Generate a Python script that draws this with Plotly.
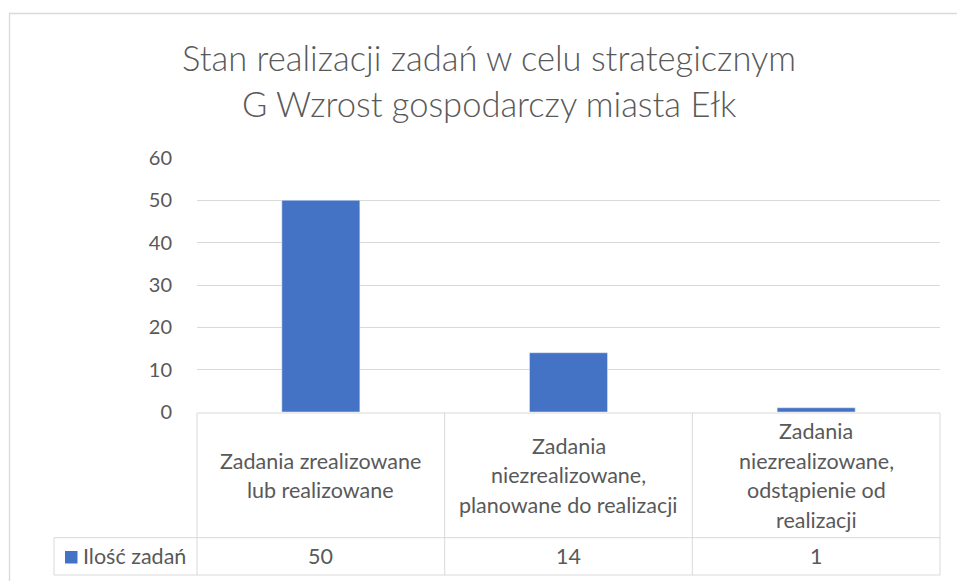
import plotly.graph_objects as go

# ---- data ----
categories = [
    "Zadania zrealizowane\nlub realizowane",
    "Zadania\nniezrealizowane,\nplanowane do realizacji",
    "Zadania\nniezrealizowane,\nodstąpienie od\nrealizacji",
]
series_name = "Ilość zadań"
values = [50, 14, 1]
y_ticks = [0, 10, 20, 30, 40, 50, 60]
title_lines = ["Stan realizacji zadań w celu strategicznym", "G Wzrost gospodarczy miasta Ełk"]

# ---- layout geometry (pixels) ----
W, H = 957, 581
PL, PR, PT, PB = 197, 940, 158, 412
BAR = "#4472C4"
TXT = "#595959"
GRID = "#D9D9D9"
FONT = "Lato"


def px(x):
    return (x - PL) / (PR - PL)


def py(y):
    return (PB - y) / (PB - PT)


cat_keys = [c.replace("\n", " ") for c in categories]

fig = go.Figure()
fig.add_trace(go.Bar(x=cat_keys, y=values, marker_color=BAR, name=series_name,
                     showlegend=False, hoverinfo="x+y"))

shapes = []
line = dict(color=GRID, width=1)
# outer chart border
shapes.append(dict(type="rect", xref="paper", yref="paper", x0=px(9.5), x1=px(965),
                   y0=py(13.5), y1=py(600), line=dict(color=GRID, width=1.3), layer="below"))
# data table lines
t_top, t_mid, t_bot = 413, 537.7, 575
col_edges = [PL + i * (PR - PL) / 3 for i in range(4)]
shapes.append(dict(type="line", xref="paper", yref="paper", x0=px(PL), x1=px(PR), y0=py(t_top), y1=py(t_top), line=line))
shapes.append(dict(type="line", xref="paper", yref="paper", x0=px(54), x1=px(PR), y0=py(t_mid), y1=py(t_mid), line=line))
shapes.append(dict(type="line", xref="paper", yref="paper", x0=px(54), x1=px(PR), y0=py(t_bot), y1=py(t_bot), line=line))
shapes.append(dict(type="line", xref="paper", yref="paper", x0=px(54), x1=px(54), y0=py(t_mid), y1=py(t_bot), line=line))
for xe in col_edges:
    shapes.append(dict(type="line", xref="paper", yref="paper", x0=px(xe), x1=px(xe), y0=py(t_top), y1=py(t_bot), line=line))
# legend key square
shapes.append(dict(type="rect", xref="paper", yref="paper", x0=px(65), x1=px(77.5), y0=py(551), y1=py(563.5),
                   fillcolor=BAR, line=dict(width=0)))

annotations = []
# title
for i, t in enumerate(title_lines):
    annotations.append(dict(text=t, xref="paper", yref="paper", x=px(489), y=py(57.5 + 46 * i),
                            xanchor="center", yanchor="middle", showarrow=False,
                            font=dict(family=FONT, size=34.5, color=TXT, weight=300)))
# category labels in table
cell_mid = (t_top + t_mid) / 2
LS = 29.5
TFS = 21.5
for key, cat in zip(cat_keys, categories):
    lines = cat.split("\n")
    n = len(lines)
    for j, ln in enumerate(lines):
        yc = cell_mid + (j - (n - 1) / 2) * LS
        annotations.append(dict(text=ln, xref="x", yref="paper", x=key, y=py(yc),
                                xanchor="center", yanchor="middle", showarrow=False,
                                font=dict(family=FONT, size=TFS, color=TXT)))
# values row
val_mid = (t_mid + t_bot) / 2
for key, v in zip(cat_keys, values):
    annotations.append(dict(text=str(v), xref="x", yref="paper", x=key, y=py(val_mid),
                            xanchor="center", yanchor="middle", showarrow=False,
                            font=dict(family=FONT, size=TFS, color=TXT)))
annotations.append(dict(text=series_name, xref="paper", yref="paper", x=px(81), y=py(val_mid),
                        xanchor="left", yanchor="middle", showarrow=False,
                        font=dict(family=FONT, size=TFS, color=TXT)))

fig.update_layout(
    width=W, height=H,
    margin=dict(l=PL, r=W - PR, t=PT, b=H - PB, pad=0),
    paper_bgcolor="white", plot_bgcolor="white",
    bargap=0.685,
    shapes=shapes, annotations=annotations,
    xaxis=dict(showticklabels=False, showgrid=False, zeroline=False, showline=False, ticks=""),
    yaxis=dict(range=[0, 60], tickvals=y_ticks, showgrid=True, gridcolor=GRID, gridwidth=1,
               zeroline=False, showline=False, ticks="",
               tickfont=dict(family=FONT, size=20, color=TXT), ticklabelstandoff=24),
    font=dict(family=FONT, color=TXT),
)

fig.write_html("out.html", config={"displayModeBar": False},
               post_script="document.body.style.margin='0';document.body.style.overflow='hidden';")
